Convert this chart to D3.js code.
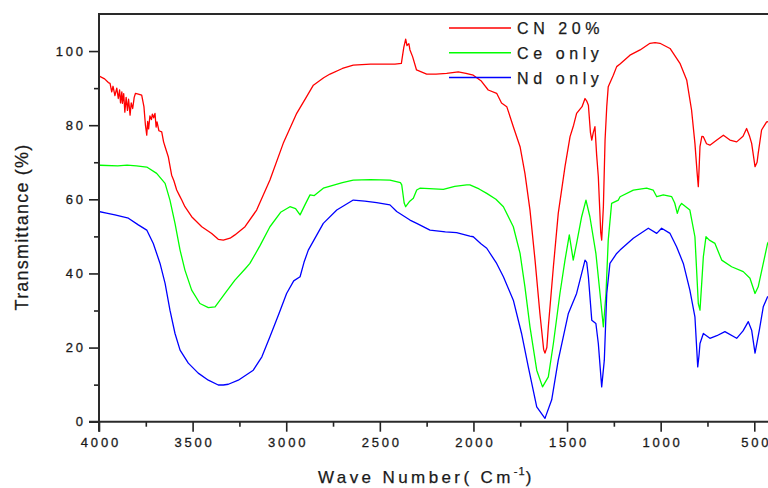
<!DOCTYPE html>
<html>
<head>
<meta charset="utf-8">
<script src="https://cdn.jsdelivr.net/npm/d3@7"></script>
<style>
  body { margin: 0; background: #fff; }
  svg { display: block; font-family: Arial, "Liberation Sans", sans-serif; }
  .tick text { fill: #1a1a1a; stroke: #1a1a1a; stroke-width: 0.3; font-size: 13px; letter-spacing: 2.8px; }
  .tick line { stroke: #222; stroke-width: 1.6; }
  .domain { display: none; }
  .frame { stroke: #2a2a2a; stroke-width: 2; fill: none; }
  .spec { fill: none; stroke-width: 1.3; stroke-linejoin: round; }
  .legend text { font-size: 16px; fill: #1a1a1a; stroke: #1a1a1a; stroke-width: 0.25; letter-spacing: 4.6px; }
  .title { fill: #1a1a1a; stroke: #1a1a1a; stroke-width: 0.25; }
</style>
</head>
<body>
<div id="chart"></div>
<script>
// wavenumber (cm-1), transmittance (%)
var cnData = [
  [4000,93.3],[3970,92.5],[3950,91.5],[3941,91.3],[3932,89],[3925,90.5],[3915,88],[3905,90],
  [3897,87.2],[3890,89.5],[3885,86],[3878,89],[3875,85.9],[3868,88.5],[3862,83.5],[3855,87.5],
  [3848,84],[3842,87],[3834,82.7],[3828,86],[3820,84.5],[3812,87.5],[3805,88.6],
  [3790,88.4],[3772,88.1],[3760,85],[3752,80],[3748,78.5],[3745,77.3],[3740,81],[3735,79],
  [3728,82.5],[3720,81.5],[3715,83],[3708,82],
  [3701,83.2],[3695,79.5],[3690,80.9],[3680,78.5],[3665,78.2],[3655,75.5],[3647,74.2],[3630,71.5],
  [3612,66.5],[3600,65],[3585,62.5],[3570,61],[3558,59.8],[3541,58],[3505,55.3],[3451,52.6],
  [3398,50.8],[3363,49.2],[3336,49],[3300,49.5],[3274,50.4],[3220,52.6],[3158,57.1],
  [3087,65.2],[3016,75.1],[2944,83.2],[2891,87.7],[2855,90.8],[2800,92.8],[2766,93.8],
  [2700,95.3],[2642,96.2],[2550,96.5],[2419,96.5],[2385,96.7],[2372,101],[2362,103.2],
  [2355,101.5],[2345,102],[2339,100.3],[2325,98.5],[2304,94.9],[2250,93.8],[2200,93.8],
  [2143,94],[2081,94.4],[2040,94],[2001,93.5],[1960,92],[1921,89.5],[1876,88.6],[1850,86],
  [1822,85],[1787,79.6],[1751,74.2],[1725,67],[1698,57.1],[1671,43.6],[1645,29.2],
  [1625,19.5],[1618,18.5],[1608,20],[1600,25.6],[1573,41.8],[1547,56.2],[1511,68.8],
  [1484,76.9],[1465,80],[1449,83.2],[1420,85],[1404,87.2],[1395,86.5],[1386,85.4],
  [1375,78],[1368,76],[1360,78],[1351,79.6],[1342,72],[1333,66.1],[1320,51],[1315,49],
  [1306,58],[1297,76],[1288,85],[1280,90.4],[1253,93.5],[1235,95.8],[1217,96.5],
  [1164,98.9],[1110,100.3],[1057,102.1],[1030,102.3],[1004,102.1],[950,100.7],[897,96.7],
  [861,92.2],[835,84.1],[817,75.1],[805,67],[799,63.4],[795,68],[790,74.2],[780,77],
  [772,76.9],[755,75],[737,74.6],[700,76],[665,77.3],[630,76],[594,75.5],[560,77],
  [541,79.1],[525,77],[514,75.1],[496,68.8],[485,70],[479,72.4],[461,78.7],[434,80.9],[405,81]
];

var ceData = [
  [4000,69.2],[3900,69],[3850,69.2],[3800,69],[3745,68.7],[3692,67],[3647,64.3],[3621,59.8],
  [3594,53.5],[3567,46.3],[3541,40.9],[3505,35.5],[3461,31.9],[3416,30.8],[3380,31],
  [3327,34.6],[3274,38.2],[3220,41.2],[3194,42.7],[3140,47.5],[3087,52.6],[3030,56.5],
  [2980,58],[2950,57.5],[2926,55.8],[2900,58.5],[2873,61.2],[2850,61],[2802,63],[2700,64.5],
  [2642,65.2],[2550,65.3],[2446,65.2],[2390,64.5],[2383,63.9],[2370,59],[2362,58],
  [2340,59.5],[2321,60.3],[2303,62.5],[2286,63],[2161,62.7],[2100,63.5],[2036,63.9],
  [2019,63.9],[1970,62.8],[1929,61.6],[1880,60],[1840,58],[1787,52.6],[1751,45.4],
  [1725,36.4],[1698,25.6],[1662,13.9],[1631,9.4],[1600,12.1],[1573,21.1],[1538,34.6],
  [1511,43.6],[1488,50.4],[1467,43.6],[1449,48.1],[1422,55.3],[1399,59.8],[1378,55.3],
  [1346,45.4],[1324,34.6],[1306,25.6],[1292,34.6],[1280,49],[1262,58.9],[1226,59.8],
  [1217,60.7],[1146,62.5],[1075,63],[1040,62.5],[1021,60.7],[1000,61],[986,61.2],[941,60.7],
  [925,59],[911,56.2],[900,58],[888,58.9],[844,57.1],[817,49.9],[799,31.9],[790,30.1],
  [780,38],[772,44.5],[758,49.9],[740,49],[710,48.1],[674,43.6],[621,41.8],[559,40.5],
  [523,38.7],[496,34.6],[479,36.4],[452,42.7],[429,48.1],[405,50]
];

var ndData = [
  [4000,56.7],[3960,56.3],[3915,55.8],[3843,54.9],[3790,53.1],[3745,51.7],[3710,48.1],
  [3674,42.7],[3647,37.3],[3621,30.1],[3594,23.8],[3567,19.3],[3523,15.8],[3470,13.1],
  [3416,11.2],[3363,9.9],[3336,9.9],[3309,10.1],[3256,11.2],[3176,13.9],[3130,17.5],
  [3087,22.9],[3040,29],[2998,34.6],[2960,38],[2926,39.1],[2905,43],[2882,46.3],[2802,53.5],
  [2730,57.1],[2642,59.8],[2580,59.5],[2517,59.1],[2446,58.5],[2410,56.7],[2339,54.4],
  [2303,53.5],[2232,51.7],[2150,51.2],[2090,51],[2019,50.1],[2001,49.9],[1960,48],
  [1929,46.8],[1876,42.7],[1840,39.1],[1787,32.8],[1743,23.8],[1707,14.8],[1662,4],
  [1618,0.9],[1582,5.9],[1547,16.6],[1493,29.2],[1449,34.6],[1404,43.6],[1395,43],
  [1386,39.1],[1368,27.4],[1346,26.5],[1333,21.1],[1315,9.4],[1301,16.6],[1288,34.6],
  [1271,42.7],[1235,45.4],[1217,46.3],[1146,49.5],[1066,52.2],[1021,50.8],[995,52.2],
  [950,50.8],[915,47.2],[879,42.7],[844,35.5],[817,28.3],[802,14.8],[795,18],[790,21.1],
  [772,23.8],[737,22.5],[700,23.2],[657,24.3],[594,22.5],[560,24.5],[532,27],[514,24.7],
  [496,18.5],[473,24.7],[452,31],[429,33.7],[405,34]
];

var seriesNames = ["CN 20%", "Ce only", "Nd only"];
var seriesColors = ["#ff0000", "#00ff00", "#0000ff"];
var xMajor = [4000, 3500, 3000, 2500, 2000, 1500, 1000, 500];
var xMinor = [3750, 3250, 2750, 2250, 1750, 1250, 750];
var yMajor = [0, 20, 40, 60, 80, 100];
var yMinor = [10, 30, 50, 70, 90];

var width = 768, height = 488;
var plotLeft = 99, plotTop = 14, plotBottom = 421.7, plotRight = 773;

var svg = d3.select("#chart").append("svg")
  .attr("width", width)
  .attr("height", height);

var x = d3.scaleLinear().domain([4000, 400]).range([plotLeft, plotRight]);
var y = d3.scaleLinear().domain([0, 110]).range([plotBottom, plotTop]);

// ticks
svg.append("g")
  .attr("transform", "translate(0," + plotBottom + ")")
  .call(d3.axisBottom(x).tickValues(xMajor).tickSize(10).tickPadding(6).tickFormat(d3.format("d")))
  .selectAll("text").attr("dx", "1.4px");
svg.append("g")
  .attr("transform", "translate(0," + plotBottom + ")")
  .call(d3.axisBottom(x).tickValues(xMinor).tickSize(5).tickFormat(""));
svg.append("g")
  .attr("transform", "translate(" + plotLeft + ",0)")
  .call(d3.axisLeft(y).tickValues(yMajor).tickSize(10).tickPadding(6).tickFormat(d3.format("d")))
  .selectAll("text").attr("dx", "2.8px");
svg.append("g")
  .attr("transform", "translate(" + plotLeft + ",0)")
  .call(d3.axisLeft(y).tickValues(yMinor).tickSize(5).tickFormat(""));

// frame: left, bottom, top
svg.append("path").attr("class", "frame")
  .attr("d", "M" + plotLeft + "," + (plotBottom + 10) + "V" + plotTop + "H" + width);
svg.append("path").attr("class", "frame")
  .attr("d", "M" + (plotLeft - 10) + "," + plotBottom + "H" + width);

svg.append("clipPath").attr("id", "clip")
  .append("rect").attr("x", plotLeft + 1).attr("y", plotTop + 1)
  .attr("width", plotRight - plotLeft).attr("height", plotBottom - plotTop - 1);

var line = d3.line()
  .x(function(d) { return x(d[0]); })
  .y(function(d) { return y(d[1]); });

var allData = [cnData, ceData, ndData];
svg.append("g").attr("clip-path", "url(#clip)")
  .selectAll("path")
  .data(allData)
  .enter().append("path")
  .attr("class", "spec")
  .attr("stroke", function(d, i) { return seriesColors[i]; })
  .attr("d", line);

// legend
var legend = svg.append("g").attr("class", "legend");
seriesNames.forEach(function(name, i) {
  var ly = 28 + i * 24.8;
  legend.append("line")
    .attr("x1", 449).attr("x2", 511)
    .attr("y1", ly).attr("y2", ly)
    .attr("stroke", seriesColors[i]).attr("stroke-width", 1.5);
  legend.append("text")
    .attr("x", 517).attr("y", ly + 6)
    .text(name);
});

// axis titles
svg.append("text")
  .attr("class", "title")
  .attr("transform", "translate(28,227) rotate(-90)")
  .attr("text-anchor", "middle")
  .style("font-size", "18px")
  .style("letter-spacing", "1.2px")
  .text("Transmittance (%)");

var xt = svg.append("text")
  .attr("class", "title")
  .attr("x", 318).attr("y", 483)
  .style("font-size", "17px")
  .style("letter-spacing", "3.4px");
xt.append("tspan").text("Wave Number( Cm");
xt.append("tspan").attr("dy", -8).style("font-size", "11px").style("letter-spacing", "1px").text("-1");
xt.append("tspan").attr("dy", 8).text(")");
</script>
</body>
</html>
